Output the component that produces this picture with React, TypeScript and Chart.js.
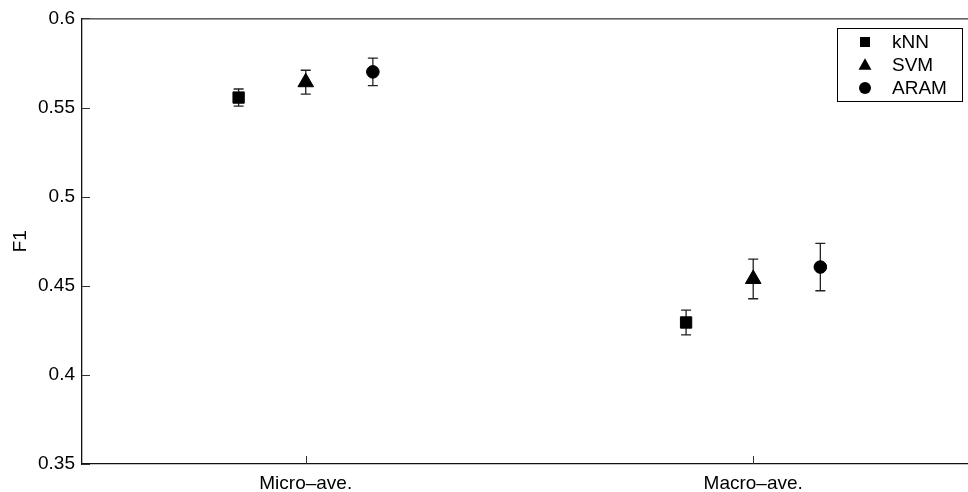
import React, { useEffect, useRef } from 'react';
import { Chart, registerables } from 'chart.js';

Chart.register(...registerables);

const categories = ['Micro–ave.', 'Macro–ave.'];
const methods = ['kNN', 'SVM', 'ARAM'];
const knnValues = [0.5556, 0.4294];
const knnErrors = [0.0048, 0.0069];
const svmValues = [0.5642, 0.4538];
const svmErrors = [0.0067, 0.0111];
const aramValues = [0.57, 0.4605];
const aramErrors = [0.0077, 0.0133];
const yTicks = [0.35, 0.4, 0.45, 0.5, 0.55, 0.6];
const yTickLabels = ['0.35', '0.4', '0.45', '0.5', '0.55', '0.6'];

const seriesValues = [knnValues, svmValues, aramValues];
const seriesErrors = [knnErrors, svmErrors, aramErrors];
const groupOffsets = [-0.15, 0, 0.15];
const pointStyles = ['rect', 'triangle', 'circle'];
const pointRadii = [8, 9, 6.3];

const FONT_FAMILY = '"Liberation Sans", Arial, Helvetica, sans-serif';

function drawMarker(ctx: CanvasRenderingContext2D, style: string, x: number, y: number, s: number) {
  ctx.beginPath();
  if (style === 'rect') {
    ctx.rect(x - s / 2, y - s / 2, s, s);
  } else if (style === 'triangle') {
    const h = s * 0.87;
    ctx.moveTo(x, y - h / 2 - 1);
    ctx.lineTo(x + s / 2, y + h / 2 - 1);
    ctx.lineTo(x - s / 2, y + h / 2 - 1);
    ctx.closePath();
  } else {
    ctx.arc(x, y, s / 2, 0, Math.PI * 2);
  }
  ctx.fill();
}

const errorBarPlugin = {
  id: 'errorBars',
  beforeDatasetsDraw(chart: any) {
    const { ctx, scales } = chart;
    const y = scales.y;
    ctx.save();
    ctx.strokeStyle = '#222';
    ctx.lineWidth = 1.3;
    chart.data.datasets.forEach((ds: any, i: number) => {
      const meta = chart.getDatasetMeta(i);
      meta.data.forEach((pt: any, j: number) => {
        const v = ds.data[j].y;
        const e = ds.errors[j];
        const top = y.getPixelForValue(v + e);
        const bot = y.getPixelForValue(v - e);
        const px = pt.x;
        ctx.beginPath();
        ctx.moveTo(px, top);
        ctx.lineTo(px, bot);
        ctx.moveTo(px - 5, top);
        ctx.lineTo(px + 5, top);
        ctx.moveTo(px - 5, bot);
        ctx.lineTo(px + 5, bot);
        ctx.stroke();
      });
    });
    ctx.restore();
  },
};

const frameLegendPlugin = {
  id: 'frameLegend',
  afterDraw(chart: any) {
    const { ctx, chartArea, scales } = chart;
    ctx.save();
    ctx.strokeStyle = '#000';
    ctx.lineWidth = 1;
    ctx.beginPath();
    ctx.moveTo(chartArea.left, chartArea.top + 0.5);
    ctx.lineTo(chart.width, chartArea.top + 0.5);
    ctx.stroke();
    ctx.strokeStyle = '#333';
    ctx.beginPath();
    yTicks.forEach((t) => {
      const py = Math.round(scales.y.getPixelForValue(t)) + 0.5;
      ctx.moveTo(chartArea.left, py);
      ctx.lineTo(chartArea.left + 8, py);
    });
    categories.forEach((_, i) => {
      const px = Math.round(scales.x.getPixelForValue(i + 1)) + 0.5;
      ctx.moveTo(px, chartArea.bottom);
      ctx.lineTo(px, chartArea.bottom - 8);
    });
    ctx.stroke();
    const bx = 837.5, by = 28.5, bw = 125, bh = 73;
    ctx.fillStyle = '#fff';
    ctx.fillRect(bx, by, bw, bh);
    ctx.strokeStyle = '#000';
    ctx.lineWidth = 1;
    ctx.strokeRect(bx, by, bw, bh);
    const rowYs = [42, 65, 88];
    const sizes = [10, 13, 12];
    ctx.fillStyle = '#000';
    ctx.font = `19px ${FONT_FAMILY}`;
    ctx.textBaseline = 'middle';
    ctx.textAlign = 'left';
    methods.forEach((m, i) => {
      drawMarker(ctx, pointStyles[i], 865, rowYs[i], sizes[i]);
      ctx.fillText(m, 892, rowYs[i] + 1);
    });
    ctx.restore();
  },
};

export default function App() {
  const canvasRef = useRef<HTMLCanvasElement | null>(null);

  useEffect(() => {
    const canvas = canvasRef.current;
    if (!canvas) return;
    const font = { family: FONT_FAMILY, size: 19 };
    const datasets = methods.map((m, i) => ({
      label: m,
      data: categories.map((_, j) => ({ x: j + 1 + groupOffsets[i], y: seriesValues[i][j] })),
      errors: seriesErrors[i],
      showLine: false,
      pointStyle: pointStyles[i],
      pointRadius: pointRadii[i],
      pointBackgroundColor: '#000',
      pointBorderColor: '#000',
      pointBorderWidth: 1,
    }));
    const chart = new Chart(canvas, {
      type: 'scatter',
      data: { datasets } as any,
      options: {
        animation: false,
        responsive: false,
        devicePixelRatio: 1,
        layout: { autoPadding: false, padding: { top: 16, left: 0, right: 0, bottom: 0 } },
        plugins: { legend: { display: false }, tooltip: { enabled: false } },
        scales: {
          x: {
            type: 'linear',
            min: 0.5,
            max: 2.48,
            afterBuildTicks: (s: any) => {
              s.ticks = categories.map((_, i) => ({ value: i + 1 }));
            },
            afterFit: (s: any) => {
              s.height = 28;
              s.paddingLeft = 0;
              s.paddingRight = 0;
            },
            ticks: {
              callback: (v: any) => categories[Math.round(Number(v)) - 1],
              font,
              color: '#000',
              padding: 8,
              autoSkip: false,
              maxRotation: 0,
            },
            grid: { display: false, drawTicks: false },
            border: { display: true, color: '#111', width: 1.3 },
          },
          y: {
            type: 'linear',
            min: 0.35,
            max: 0.6,
            afterBuildTicks: (s: any) => {
              s.ticks = yTicks.map((v) => ({ value: v }));
            },
            afterFit: (s: any) => {
              s.width = 82;
            },
            ticks: {
              callback: (v: any) => {
                const k = yTicks.findIndex((t) => Math.abs(t - Number(v)) < 1e-9);
                return k >= 0 ? yTickLabels[k] : '';
              },
              font,
              color: '#000',
              padding: 7,
            },
            grid: { display: false, drawTicks: false },
            border: { display: true, color: '#111', width: 1.3 },
            title: { display: true, text: 'F1', font, color: '#000', padding: { top: 9, bottom: 0 } },
          },
        },
      } as any,
      plugins: [errorBarPlugin, frameLegendPlugin],
    });
    return () => chart.destroy();
  }, []);

  return (
    <div style={{ position: 'fixed', left: 0, top: 0, width: 968, height: 492, background: '#fff' }}>
      <canvas ref={canvasRef} width={968} height={492} style={{ display: 'block' }} />
    </div>
  );
}
